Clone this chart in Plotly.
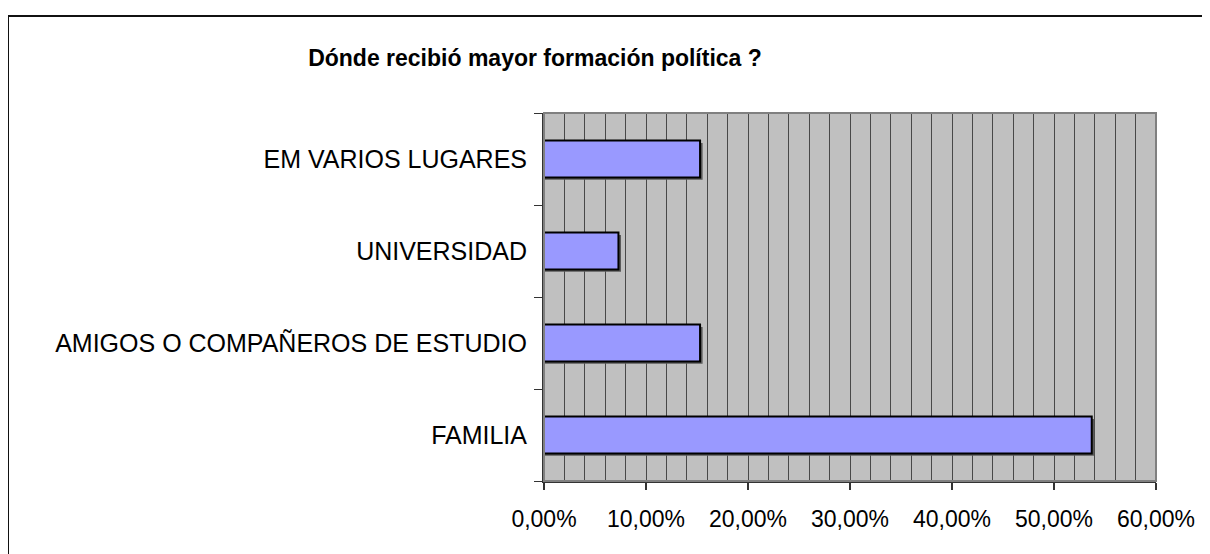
import plotly.graph_objects as go

categories = ["FAMILIA", "AMIGOS O COMPAÑEROS DE ESTUDIO", "UNIVERSIDAD", "EM VARIOS LUGARES"]
values = [53.7, 15.3, 7.3, 15.3]
x_tickvals = [0, 10, 20, 30, 40, 50, 60]
x_ticktext = [f"{v:.2f}".replace(".", ",") + "%" for v in x_tickvals]
title_text = "Dónde recibió mayor formación política ?"

# page body has an 8px margin; work in window pixels and shift
OFF = 8
W, H = 1210 - OFF, 554 - OFF
L, R, T, B = 544 - OFF, 1156 - OFF, 113 - OFF, 481 - OFF

fig = go.Figure()
# shadow
fig.add_trace(go.Bar(
    y=categories, x=[v + 0.25 for v in values], orientation="h",
    width=0.4, offset=-0.225,
    marker=dict(color="#5a5a5a", line=dict(width=0)),
    hoverinfo="skip", showlegend=False,
))
fig.add_trace(go.Bar(
    y=categories, x=values, orientation="h",
    width=0.4, offset=-0.2,
    marker=dict(color="#9999FF", line=dict(color="#000000", width=2)),
    showlegend=False,
))

def px_x(p):
    return (p - OFF - L) / (R - L)

def px_y(p):
    return (B - (p - OFF)) / (B - T)

fig.update_layout(
    width=W, height=H,
    margin=dict(l=L, r=W - R, t=T, b=H - B, pad=0),
    paper_bgcolor="white",
    plot_bgcolor="#C0C0C0",
    barmode="overlay",
    font=dict(family="Liberation Sans, Arial, sans-serif", color="black"),
    title=dict(
        text="<b>" + title_text + "</b>",
        font=dict(family="Liberation Sans, Arial, sans-serif", size=23, color="black"),
        xref="container", yref="container",
        x=(535 - OFF) / W, y=1 - (58 - OFF) / H, xanchor="center", yanchor="middle",
    ),
    xaxis=dict(
        range=[0, 60],
        tickvals=x_tickvals, ticktext=x_ticktext,
        ticks="outside", ticklen=7, tickcolor="#333333", tickwidth=2,
        tickfont=dict(size=23, color="black"),
        ticklabelstandoff=9,
        showline=True, linecolor="#333333", linewidth=2,
        showgrid=True, gridcolor="#484848", gridwidth=1,
        minor=dict(dtick=2, showgrid=True, gridcolor="#484848", gridwidth=1),
        zeroline=False, fixedrange=True,
    ),
    yaxis=dict(
        type="category",
        categoryorder="array", categoryarray=categories,
        range=[-0.5, 3.5],
        ticks="outside", tickson="boundaries", ticklen=8, tickcolor="#333333", tickwidth=1,
        tickfont=dict(size=25, color="black"),
        ticklabelstandoff=10,
        showline=True, linecolor="#333333", linewidth=2,
        showgrid=False, zeroline=False, fixedrange=True,
    ),
    shapes=[
        dict(type="rect", xref="paper", yref="paper", x0=0, y0=0, x1=1, y1=1,
             line=dict(color="#808080", width=2), fillcolor="rgba(0,0,0,0)", layer="above"),
        dict(type="rect", xref="paper", yref="paper",
             x0=px_x(8), y0=px_y(600), x1=px_x(1260), y1=px_y(16),
             line=dict(color="#111111", width=2), fillcolor="rgba(0,0,0,0)", layer="above"),
    ],
)

fig.write_html("out.html")
